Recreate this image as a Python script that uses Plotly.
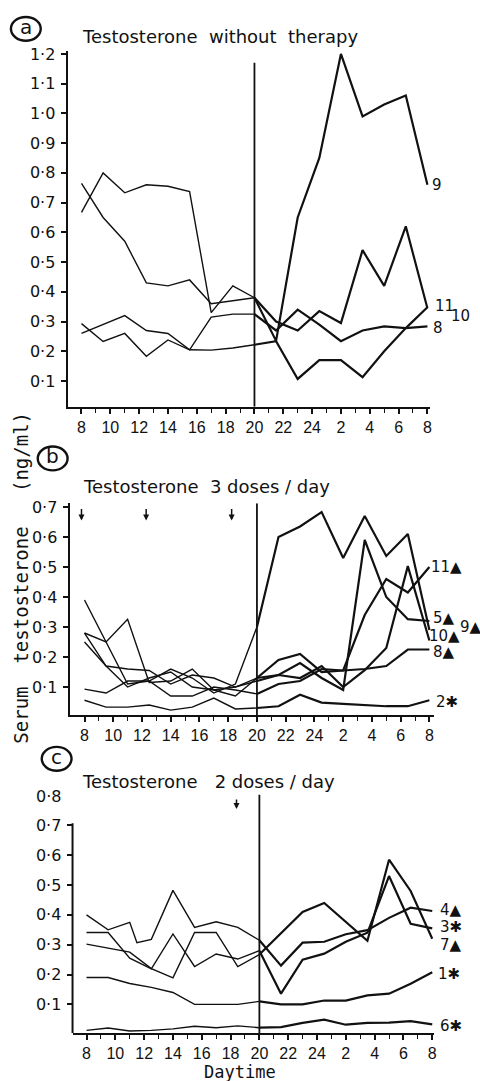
import plotly.graph_objects as go

W, H = 480, 1081
INK = "#111111"

# ---------------- data ----------------
times = [8, 9.5, 11, 12.5, 14, 15.5, 17, 18.5, 20, 21.5, 23, 24.5, 26, 27.5, 29, 30.5, 32]
times_c4 = [8, 9.5, 11, 11.5, 12.5, 14, 15.5, 17, 18.5, 20, 21.5, 23, 24.5, 26, 27.5, 29, 30.5, 32]

tick_hours = [8, 10, 12, 14, 16, 18, 20, 22, 24, 26, 28, 30, 32]
tick_text = ["8", "10", "12", "14", "16", "18", "20", "22", "24", "2", "4", "6", "8"]

# (a) Testosterone without therapy
a_9 = [0.765, 0.65, 0.57, 0.43, 0.42, 0.44, 0.36, 0.37, 0.38, 0.235, 0.65, 0.85, 1.2, 0.99, 1.03, 1.06, 0.76]
a_11 = [0.667, 0.80, 0.733, 0.76, 0.755, 0.737, 0.33, 0.42, 0.38, 0.30, 0.27, 0.335, 0.295, 0.54, 0.42, 0.62, 0.345]
a_8 = [0.26, 0.29, 0.32, 0.27, 0.26, 0.205, 0.315, 0.325, 0.325, 0.27, 0.34, 0.29, 0.234, 0.27, 0.284, 0.278, 0.284]
a_10 = [0.293, 0.233, 0.26, 0.183, 0.238, 0.205, 0.204, 0.211, 0.222, 0.234, 0.107, 0.17, 0.17, 0.113, 0.20, 0.278, 0.348]

# (b) Testosterone 3 doses / day
b_9 = [0.39, 0.25, 0.11, 0.12, 0.16, 0.13, 0.08, 0.11, 0.30, 0.60, 0.635, 0.683, 0.53, 0.67, 0.537, 0.61, 0.29]
b_5 = [0.28, 0.25, 0.326, 0.115, 0.12, 0.16, 0.09, 0.10, 0.12, 0.14, 0.18, 0.13, 0.09, 0.59, 0.40, 0.326, 0.32]
b_11 = [0.28, 0.17, 0.16, 0.155, 0.11, 0.14, 0.13, 0.10, 0.13, 0.19, 0.21, 0.15, 0.155, 0.34, 0.46, 0.415, 0.50]
b_10 = [0.25, 0.17, 0.10, 0.13, 0.15, 0.10, 0.09, 0.07, 0.13, 0.14, 0.13, 0.17, 0.10, 0.156, 0.23, 0.503, 0.255]
b_8 = [0.093, 0.08, 0.12, 0.12, 0.07, 0.07, 0.10, 0.09, 0.077, 0.11, 0.12, 0.16, 0.155, 0.16, 0.17, 0.225, 0.225]
b_2 = [0.056, 0.033, 0.033, 0.04, 0.023, 0.033, 0.063, 0.027, 0.03, 0.036, 0.074, 0.048, 0.044, 0.04, 0.036, 0.036, 0.056]

# (c) Testosterone 2 doses / day
c_4 = [0.40, 0.35, 0.375, 0.307, 0.318, 0.482, 0.358, 0.377, 0.358, 0.315, 0.23, 0.307, 0.31, 0.335, 0.349, 0.39, 0.424, 0.413]
c_3 = [0.341, 0.341, 0.255, 0.219, 0.336, 0.227, 0.269, 0.252, 0.28, 0.136, 0.25, 0.27, 0.31, 0.34, 0.53, 0.37, 0.355]
c_7 = [0.302, 0.289, 0.275, 0.22, 0.189, 0.341, 0.341, 0.227, 0.267, 0.34, 0.41, 0.44, 0.375, 0.313, 0.585, 0.48, 0.32]
c_1 = [0.19, 0.19, 0.17, 0.157, 0.14, 0.10, 0.10, 0.10, 0.11, 0.10, 0.10, 0.113, 0.113, 0.13, 0.136, 0.169, 0.208]
c_6 = [0.013, 0.021, 0.011, 0.013, 0.018, 0.027, 0.022, 0.028, 0.022, 0.024, 0.038, 0.049, 0.032, 0.038, 0.039, 0.044, 0.033]

a_yticks = [0.1, 0.2, 0.3, 0.4, 0.5, 0.6, 0.7, 0.8, 0.9, 1.0, 1.1, 1.2]
bc_yticks = [0.1, 0.2, 0.3, 0.4, 0.5, 0.6, 0.7]

# ---------------- figure ----------------
fig = go.Figure()


def add_series(t, v, xa, ya):
    left = [(ti, vi) for ti, vi in zip(t, v) if ti <= 20]
    right = [(ti, vi) for ti, vi in zip(t, v) if ti >= 20]
    for part, wdt in ((left, 1.4), (right, 2.2)):
        fig.add_trace(go.Scatter(
            x=[p[0] for p in part], y=[p[1] for p in part],
            mode="lines", line=dict(color=INK, width=wdt),
            xaxis=xa, yaxis=ya, showlegend=False, hoverinfo="skip"))


for s in (a_9, a_11, a_8, a_10):
    add_series(times, s, "x", "y")
for s in (b_9, b_5, b_11, b_10, b_8, b_2):
    add_series(times, s, "x2", "y2")
add_series(times_c4, c_4, "x3", "y3")
for s in (c_3, c_7, c_1, c_6):
    add_series(times, s, "x3", "y3")


def dot(v):
    return f"{v:.1f}".replace(".", "·")


def px2x(px):
    return px / W


def px2y(py):
    return 1 - py / H


xfont = dict(family="Liberation Sans Narrow, Liberation Sans, sans-serif", size=16, color=INK)
yfont = dict(family="DejaVu Sans, sans-serif", size=16, color=INK)

common_x = dict(showgrid=False, zeroline=False, showline=True, linecolor=INK, linewidth=2,
                ticks="outside", ticklen=5, tickwidth=1.6, tickcolor=INK,
                tickmode="array", tickvals=tick_hours, ticktext=tick_text,
                tickfont=xfont, ticklabelstandoff=0,
                minor=dict(tickmode="array", tickvals=list(range(8, 33)), ticks="outside",
                           ticklen=4, tickwidth=1.4, tickcolor=INK, showgrid=False))
common_y = dict(showgrid=False, zeroline=False, showline=True, linecolor=INK, linewidth=2,
                ticks="outside", ticklen=5, tickwidth=1.6, tickcolor=INK,
                tickmode="array", tickfont=yfont, ticklabelstandoff=2)

# panel geometry (pixels)
pa = dict(l=68, r=433, b=403, t=45, xr=[7.034, 32.2], yr=[0.0134, 1.2107])
pb = dict(l=70, r=437, b=713, t=500, xr=[6.96, 32.34], yr=[0.0066, 0.7126])
pc = dict(l=73, r=437, b=1033, t=793, xr=[7.03, 32.14], yr=[0.0033, 0.803])

fig.update_layout(
    width=W, height=H, margin=dict(l=0, r=0, t=0, b=0), autosize=False,
    paper_bgcolor="white", plot_bgcolor="white", showlegend=False,
    xaxis=dict(common_x, domain=[px2x(pa["l"]), px2x(pa["r"])], range=pa["xr"], anchor="y"),
    yaxis=dict(common_y, domain=[px2y(pa["b"]), px2y(pa["t"])], range=pa["yr"], anchor="x",
               tickvals=a_yticks, ticktext=[dot(v) for v in a_yticks]),
    xaxis2=dict(common_x, domain=[px2x(pb["l"]), px2x(pb["r"])], range=pb["xr"], anchor="y2"),
    yaxis2=dict(common_y, domain=[px2y(pb["b"]), px2y(pb["t"])], range=pb["yr"], anchor="x2",
                tickvals=bc_yticks, ticktext=[dot(v) for v in bc_yticks]),
    xaxis3=dict(common_x, domain=[px2x(pc["l"]), px2x(pc["r"])], range=pc["xr"], anchor="y3"),
    yaxis3=dict(common_y, domain=[px2y(pc["b"]), px2y(pc["t"])], range=pc["yr"], anchor="x3",
                showline=False,
                tickvals=bc_yticks, ticktext=[dot(v) for v in bc_yticks]),
)

shapes = []
# vertical 20:00 lines
shapes.append(dict(type="line", xref="x", yref="y", x0=20, x1=20, y0=pa["yr"][0], y1=1.17,
                   line=dict(color=INK, width=1.8)))
shapes.append(dict(type="line", xref="x2", yref="y2", x0=20, x1=20, y0=pb["yr"][0], y1=pb["yr"][1],
                   line=dict(color=INK, width=1.8)))
shapes.append(dict(type="line", xref="x3", yref="y3", x0=20, x1=20, y0=pc["yr"][0], y1=pc["yr"][1],
                   line=dict(color=INK, width=1.8)))
# panel c y-axis line only up to 0.7
shapes.append(dict(type="line", xref="x3 domain", yref="y3", x0=0, x1=0, y0=pc["yr"][0], y1=0.707,
                   line=dict(color=INK, width=2)))
# circled panel letters
for (cx, cy) in ((26, 23), (53, 455), (57, 757)):
    shapes.append(dict(type="circle", xref="paper", yref="paper",
                       x0=px2x(cx - 15), x1=px2x(cx + 15), y0=px2y(cy + 12), y1=px2y(cy - 12),
                       line=dict(color=INK, width=2.4)))
fig.update_layout(shapes=shapes)

ann = []
title_font = dict(family="DejaVu Sans, sans-serif", size=18, color=INK)
for txt, x, y in (("a", 26, 21), ("b", 53, 453), ("c", 57, 755)):
    ann.append(dict(text=txt, x=px2x(x), y=px2y(y), xref="paper", yref="paper",
                    xanchor="center", yanchor="middle", showarrow=False,
                    font=dict(family="DejaVu Sans, sans-serif", size=20, color=INK)))
for txt, x, y in (("Testosterone  without  therapy", 80, 31),
                  ("Testosterone  3 doses / day", 82, 483),
                  ("Testosterone   2 doses / day", 81, 780)):
    ann.append(dict(text=txt, x=px2x(x), y=px2y(y), xref="paper", yref="paper",
                    xanchor="left", yanchor="middle", showarrow=False, font=title_font))

# end-of-line labels (pixel positions)
lab_font = dict(family="DejaVu Sans, sans-serif", size=15, color=INK)
labels = [("9", 433, 180), ("11", 436, 302), ("10", 452, 312), ("8", 434, 324),
          ("11▲", 432, 564), ("5▲", 434, 615), ("9▲", 461, 624), ("10▲", 430, 634),
          ("8▲", 434, 650), ("2✱", 437, 700),
          ("4▲", 441, 909), ("3✱", 441, 926), ("7▲", 441, 944), ("1✱", 439, 973), ("6✱", 441, 1026)]
for txt, x, y in labels:
    ann.append(dict(text=txt, x=px2x(x), y=px2y(y), xref="paper", yref="paper",
                    xanchor="left", yanchor="middle", showarrow=False, font=lab_font))

# 0·8 label on panel c (no tick)
ann.append(dict(text="0·8", x=px2x(63), y=px2y(795), xref="paper", yref="paper",
                xanchor="right", yanchor="middle", showarrow=False, font=yfont))

# dose arrows
for xh in (7.79, 12.29, 18.24):
    ann.append(dict(text="", x=xh, y=0.655, xref="x2", yref="y2", showarrow=True,
                    ax=0, ay=-13, arrowhead=2, arrowsize=0.8, arrowwidth=1.5, arrowcolor=INK))
ann.append(dict(text="", x=18.41, y=0.755, xref="x3", yref="y3", showarrow=True,
                ax=0, ay=-11, arrowhead=2, arrowsize=0.8, arrowwidth=1.5, arrowcolor=INK))

# axis titles
ann.append(dict(text="Serum  testosterone   (ng/ml)", x=px2x(21), y=px2y(575), xref="paper", yref="paper",
                xanchor="center", yanchor="middle", showarrow=False, textangle=-90,
                font=dict(family="DejaVu Sans Mono, monospace", size=19, color=INK)))
ann.append(dict(text="Daytime", x=px2x(242), y=px2y(1072), xref="paper", yref="paper",
                xanchor="center", yanchor="middle", showarrow=False,
                font=dict(family="DejaVu Sans Mono, monospace", size=17, color=INK)))

fig.update_layout(annotations=ann)

fig.write_html("out.html", config={"displayModeBar": False},
               post_script="document.body.style.margin='0';document.body.style.overflow='hidden';")
